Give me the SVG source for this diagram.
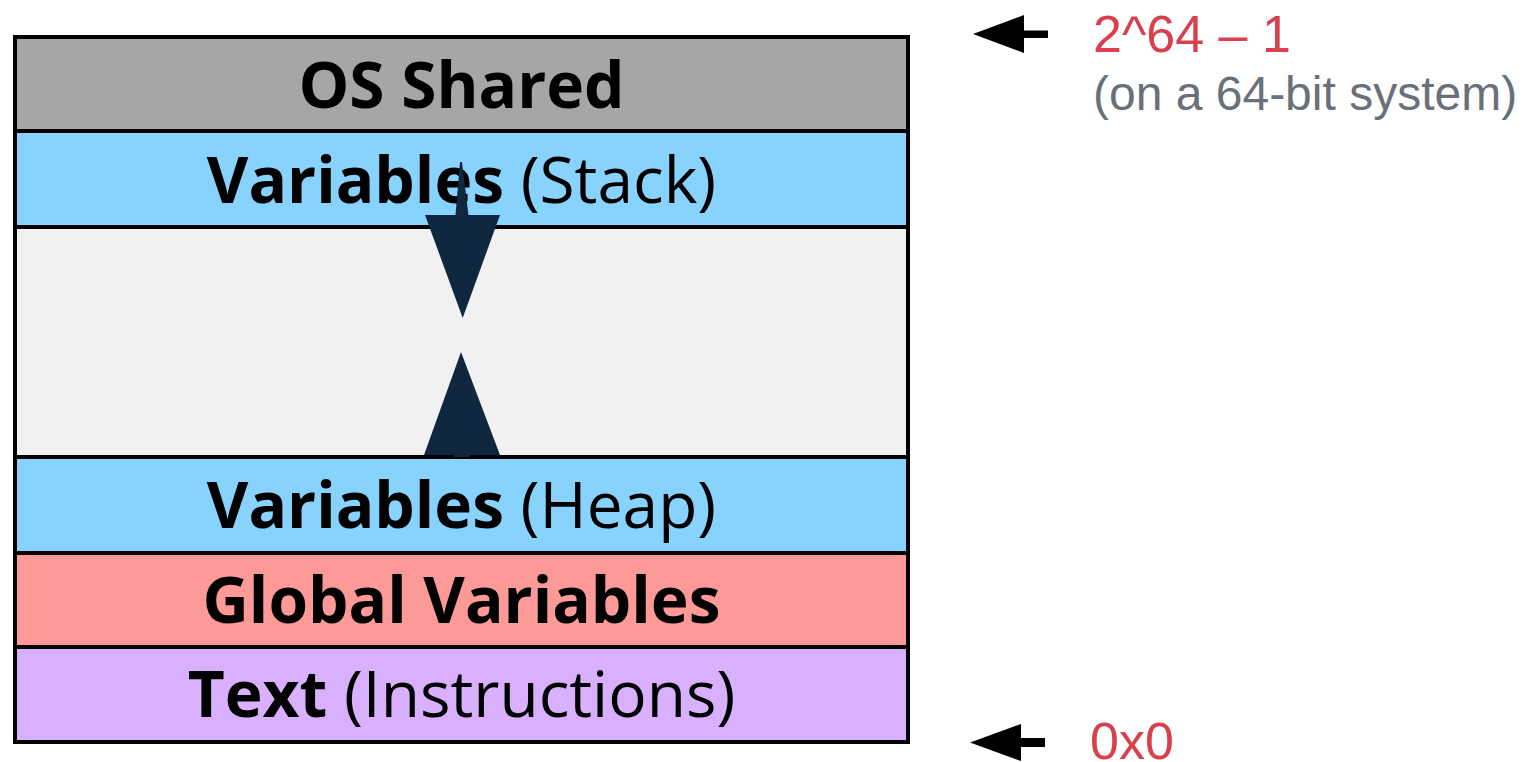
<svg xmlns="http://www.w3.org/2000/svg" width="1540" height="762" viewBox="0 0 1540 762">
  <style>
    .seg { stroke: none; }
    .divider { stroke: #000; stroke-width: 4; }
    .frame { fill: none; stroke: #000; stroke-width: 4; }
    .lbl { font-family: "Open Sans", "Noto Sans", sans-serif; font-size: 64px; fill: #000; text-anchor: middle; }
    .b { font-weight: 700; }
    .r { font-weight: 400; }
    .addr { font-family: "Liberation Sans", Arial, sans-serif; font-size: 52px; fill: #d93f4c; }
    .note { font-family: "Liberation Sans", Arial, sans-serif; font-size: 48px; fill: #697079; }
    .grow { fill: #10283f; }
    .ptr { fill: #000; }
  </style>
  <rect width="1540" height="762" fill="#ffffff"/>

  <!-- memory segments, top (high addresses) to bottom (low addresses) -->
  <g id="os-shared">
    <rect class="seg" x="15" y="37" width="893" height="94" fill="#a6a6a6"/>
    <text class="lbl b" x="461.5" y="108">OS Shared</text>
  </g>
  <g id="stack">
    <rect class="seg" x="15" y="131" width="893" height="96" fill="#87d3fe"/>
    <text class="lbl" x="461.5" y="203"><tspan class="b">Variables</tspan><tspan class="r"> (Stack)</tspan></text>
  </g>
  <g id="free">
    <rect class="seg" x="15" y="227" width="893" height="230" fill="#f1f1f1"/>
  </g>
  <g id="heap">
    <rect class="seg" x="15" y="457" width="893" height="96" fill="#87d3fe"/>
    <text class="lbl" x="461.5" y="528"><tspan class="b">Variables</tspan><tspan class="r"> (Heap)</tspan></text>
  </g>
  <g id="globals">
    <rect class="seg" x="15" y="553" width="893" height="94" fill="#fd9a98"/>
    <text class="lbl b" x="461.5" y="623">Global Variables</text>
  </g>
  <g id="text-segment">
    <rect class="seg" x="15" y="647" width="893" height="95" fill="#d9b0fe"/>
    <text class="lbl" x="461.5" y="717"><tspan class="b">Text</tspan><tspan class="r"> (Instructions)</tspan></text>
  </g>

  <!-- segment borders -->
  <g id="borders">
    <line class="divider" x1="15" y1="131" x2="908" y2="131"/>
    <line class="divider" x1="15" y1="227" x2="908" y2="227"/>
    <line class="divider" x1="15" y1="457" x2="908" y2="457"/>
    <line class="divider" x1="15" y1="553" x2="908" y2="553"/>
    <line class="divider" x1="15" y1="647" x2="908" y2="647"/>
    <rect class="frame" x="15" y="37" width="893" height="705"/>
  </g>

  <!-- growth arrows and address pointers -->
  <g id="connectors">
    <polygon class="grow" points="460,162 462,162 468.5,215 500,215 462.7,318 425,215 455.5,215"/>
    <polygon class="grow" points="461,352 500,455 470,455 470,457 454,457 454,455 424,455"/>
    <polygon class="ptr" points="973,34 1024,15 1024,30.5 1048,30.5 1048,38 1024,38 1024,53"/>
    <polygon class="ptr" points="970,742.5 1021,724 1021,738 1045,738 1045,747 1021,747 1021,761"/>
  </g>

  <g id="address-labels">
    <text class="addr" x="1093" y="52">2^64 – 1</text>
    <text class="note" x="1093" y="110">(on a 64-bit system)</text>
    <text class="addr" x="1090" y="759">0x0</text>
  </g>
</svg>
